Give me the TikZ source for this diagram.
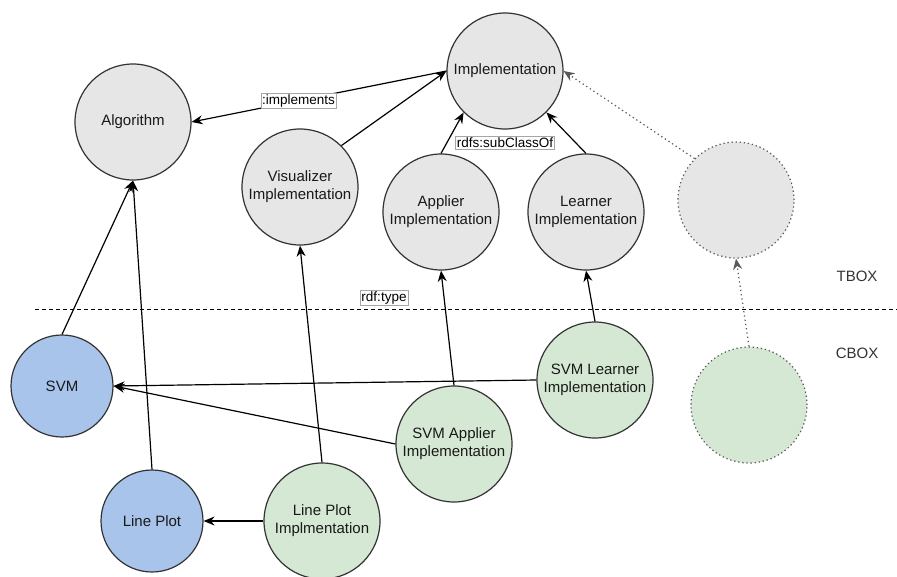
\documentclass[tikz,border=0pt]{standalone}
\usepackage{fontspec}
\setmainfont{Liberation Sans}
\usepackage{tikz}
\usetikzlibrary{positioning,arrows.meta}
\usepackage{xcolor}
\definecolor{tboxfill}{HTML}{E6E6E6}
\definecolor{cboxfill}{HTML}{D5E8D4}
\definecolor{instfill}{HTML}{A9C4EB}
\definecolor{edgegray}{HTML}{333333}

\tikzset{
  concept/.style={circle,draw=edgegray,line width=1.2pt,fill=tboxfill,minimum size=116pt,
    inner sep=0pt,align=center,font=\fontsize{15}{18}\selectfont,text=black!90},
  impl/.style={concept,fill=cboxfill},
  inst/.style={concept,fill=instfill,minimum size=102pt},
  ghost/.style={concept,draw=black!65,dash pattern=on 1.3pt off 2.8pt},
  ghostline/.style={black!65,dash pattern=on 1.3pt off 3pt},
  lbl/.style={draw=black!35,fill=white,inner sep=1.3pt,line width=0.6pt,
    font=\fontsize{13.5}{15}\selectfont},
  boxname/.style={font=\fontsize{15}{18}\selectfont,text=black!80},
}

\begin{document}
\begin{tikzpicture}[x=1pt,y=-1pt,>={Stealth[length=11pt,width=9pt]},line width=1.2pt]
\useasboundingbox (0,0) rectangle (897,576);
% TBOX
\node[concept] (impl) at (505,71) {Implementation};
\node[concept] (algo) at (133,122) {Algorithm};
\node[concept] (vis) at (300,187) {Visualizer\\Implementation};
\node[concept] (app) at (441,212) {Applier\\Implementation};
\node[concept] (lrn) at (586,212) {Learner\\Implementation};
\node[ghost] (tb) at (736,200) {};
% CBOX
\node[inst] (svm) at (62,386) {SVM};
\node[inst] (lp) at (152,521) {Line Plot};
\node[impl] (lpi) at (322,521) {Line Plot\\Implmentation};
\node[impl] (sapp) at (454,444) {SVM Applier\\Implementation};
\node[impl] (slrn) at (595,380) {SVM Learner\\Implementation};
\node[ghost,fill=cboxfill] (cb) at (749,405) {};

\node[boxname] (tboxtxt) at (857,276) {TBOX};
\node[boxname] (cboxtxt) at (857,353) {CBOX};

\coordinate (sepL) at (35,309);
\coordinate (sepR) at (897,309);
\draw[line width=1pt,dash pattern=on 4pt off 3pt] (sepL) -- (sepR);
\node[lbl] (typelbl) at (384,298) {rdf:type};

\draw[->] (impl.west) -- (algo.east) node[lbl,pos=0.58] (implementslbl) {:implements};
\draw[->] (vis.north east) -- (impl.west);
\draw[->] (app.north) -- (impl.south west);
\draw[->] (lrn.north) -- (impl.south east);
\node[lbl] (subclasslbl) at (505,143) {rdfs:subClassOf};
\draw[->,ghostline] (tb.north west) -- (impl.east);
\draw[->,ghostline] (cb.north) -- (tb.south);

\draw[->] (svm.north) -- (algo.south);
\draw[->] (lp.north) -- (algo.south);
\draw[->] (lpi.north) -- (vis.south);
\draw[->] (lpi.west) -- (lp.east);
\draw[->] (sapp.north) -- (app.south);
\draw[->] (sapp.west) -- (svm.east);
\draw[->] (slrn.west) -- (svm.east);
\draw[->] (slrn.north) -- (lrn.south);
\end{tikzpicture}
\end{document}
